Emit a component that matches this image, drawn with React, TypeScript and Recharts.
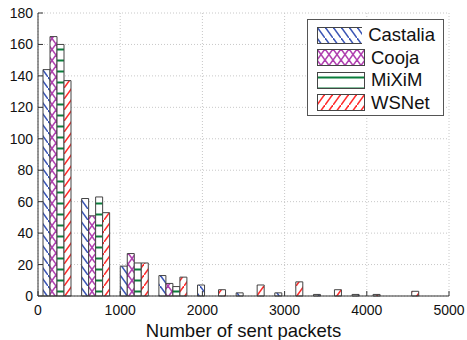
import { BarChart, Bar, XAxis, YAxis, CartesianGrid, Legend } from "recharts";

// histogram bins (centre of each bin, in sent packets)
const binCenters = [235, 705, 1175, 1645, 2115, 2585, 3055, 3525, 3995, 4465];

const castalia = [144, 62, 19, 13, 7, 2, 2, 1, 1, 0];
const cooja = [165, 51, 27, 8, 0, 0, 0, 0, 0, 0];
const mixim = [160, 63, 21, 6, 0, 0, 0, 0, 0, 0];
const wsnet = [137, 53, 21, 12, 4, 7, 9, 4, 1, 3];

const xTicks = [0, 1000, 2000, 3000, 4000, 5000];
const yTicks = [0, 20, 40, 60, 80, 100, 120, 140, 160, 180];

const series = [
  { key: "Castalia", pattern: "hatch-castalia" },
  { key: "Cooja", pattern: "hatch-cooja" },
  { key: "MiXiM", pattern: "hatch-mixim" },
  { key: "WSNet", pattern: "hatch-wsnet" },
];

const data = binCenters.map((c, i) => ({
  center: c,
  Castalia: castalia[i],
  Cooja: cooja[i],
  MiXiM: mixim[i],
  WSNet: wsnet[i],
}));

const FONT = "'Liberation Sans', Arial, sans-serif";
const AXIS = "#333";

function Patterns() {
  return (
    <svg width={0} height={0} style={{ position: "absolute" }}>
      <defs>
        <pattern id="hatch-castalia" patternUnits="userSpaceOnUse" width={8} height={11}>
          <rect width={8} height={11} fill="#fff" />
          <line x1={0} y1={0} x2={8} y2={11} stroke="#3a55b5" strokeWidth={1.6} />
        </pattern>
        <pattern id="hatch-cooja" patternUnits="userSpaceOnUse" width={8} height={11}>
          <rect width={8} height={11} fill="#fff" />
          <line x1={0} y1={0} x2={8} y2={11} stroke="#b040b0" strokeWidth={1.6} />
          <line x1={0} y1={11} x2={8} y2={0} stroke="#b040b0" strokeWidth={1.6} />
        </pattern>
        <pattern id="hatch-mixim" patternUnits="userSpaceOnUse" width={8} height={11}>
          <rect width={8} height={11} fill="#fff" />
          <line x1={0} y1={5.5} x2={8} y2={5.5} stroke="#0b7d3b" strokeWidth={2} />
        </pattern>
        <pattern id="hatch-wsnet" patternUnits="userSpaceOnUse" width={8} height={11}>
          <rect width={8} height={11} fill="#fff" />
          <line x1={0} y1={11} x2={8} y2={0} stroke="#ff2a2a" strokeWidth={1.6} />
        </pattern>
      </defs>
    </svg>
  );
}

// ticks point inward, matlab style
const BottomTick = (props: any) => {
  const { x, y, payload } = props;
  return (
    <g>
      <line x1={x} y1={y} x2={x} y2={y - 5} stroke={AXIS} />
      <text x={x} y={y + 19} textAnchor="middle" fontSize={14} fontFamily={FONT} fill="#111">
        {payload.value}
      </text>
    </g>
  );
};

const TopTick = (props: any) => {
  const { x, y } = props;
  return <line x1={x} y1={y} x2={x} y2={y + 5} stroke={AXIS} />;
};

const LeftTick = (props: any) => {
  const { x, y, payload } = props;
  return (
    <g>
      <line x1={x} y1={y} x2={x + 5} y2={y} stroke={AXIS} />
      <text x={x - 5} y={y + 5} textAnchor="end" fontSize={14} fontFamily={FONT} fill="#111">
        {payload.value}
      </text>
    </g>
  );
};

const RightTick = (props: any) => {
  const { x, y } = props;
  return <line x1={x} y1={y} x2={x - 5} y2={y} stroke={AXIS} />;
};

const LegendBox = () => (
  <div
    style={{
      border: "1px solid #555",
      background: "#fff",
      padding: "4px 8px 1px 9px",
      fontFamily: FONT,
      fontSize: 18.5,
      color: "#111",
    }}
  >
    {series.map((s) => (
      <div key={s.key} style={{ display: "flex", alignItems: "center", height: 22.5 }}>
        <svg width={48} height={17} style={{ marginRight: 6 }}>
          <rect x={0.5} y={0.5} width={47} height={16} fill={`url(#${s.pattern})`} stroke="#444" />
        </svg>
        <span>{s.key}</span>
      </div>
    ))}
  </div>
);

export default function App() {
  return (
    <div style={{ position: "absolute", left: 0, top: 0, background: "#fff" }}>
      <Patterns />
      <BarChart
        width={467}
        height={340}
        data={data}
        margin={{ top: 13, right: 18, bottom: 0, left: 0 }}
        barGap={0}
        barSize={7}
      >
        <CartesianGrid stroke="#c8c8c8" strokeDasharray="1 2" />
        <XAxis
          dataKey="center"
          type="number"
          domain={[0, 5000]}
          ticks={xTicks}
          height={44}
          tickSize={0}
          tickMargin={0}
          tickLine={false}
          axisLine={{ stroke: AXIS }}
          tick={<BottomTick />}
          interval={0}
          label={{
            value: "Number of sent packets",
            position: "insideBottom",
            offset: 3,
            style: { fontFamily: FONT, fontSize: 18.5, fill: "#111" },
          }}
        />
        <XAxis
          xAxisId="top"
          orientation="top"
          type="number"
          dataKey="center"
          domain={[0, 5000]}
          ticks={xTicks}
          height={0}
          tickSize={0}
          tickMargin={0}
          tickLine={false}
          axisLine={{ stroke: AXIS }}
          tick={<TopTick />}
          interval={0}
        />
        <YAxis
          domain={[0, 180]}
          ticks={yTicks}
          width={38}
          tickSize={0}
          tickMargin={0}
          tickLine={false}
          axisLine={{ stroke: AXIS }}
          tick={<LeftTick />}
          interval={0}
        />
        <YAxis
          yAxisId="right"
          orientation="right"
          domain={[0, 180]}
          ticks={yTicks}
          width={0}
          tickSize={0}
          tickMargin={0}
          tickLine={false}
          axisLine={{ stroke: AXIS }}
          tick={<RightTick />}
          interval={0}
        />
        <Legend
          layout="vertical"
          align="center"
          verticalAlign="middle"
          content={<LegendBox />}
          wrapperStyle={{ left: 307, top: 19, width: 137 }}
        />
        {series.map((s) => (
          <Bar
            key={s.key}
            dataKey={s.key}
            fill={`url(#${s.pattern})`}
            stroke="#444"
            strokeWidth={1}
            isAnimationActive={false}
          />
        ))}
      </BarChart>
    </div>
  );
}
